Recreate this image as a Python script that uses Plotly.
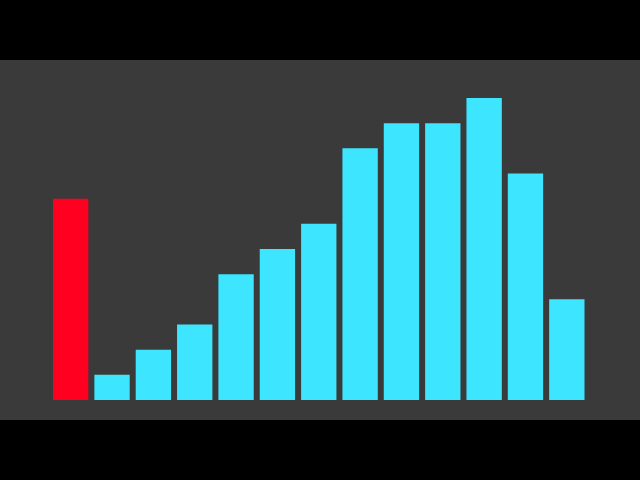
import plotly.graph_objects as go

categories = list(range(13))
values = [8, 1, 2, 3, 5, 6, 7, 10, 11, 11, 12, 9, 4]
colors = ["#ff0020"] + ["#3de5ff"] * 12

fig = go.Figure(go.Bar(x=categories, y=values, marker_color=colors,
                       marker_line_width=0, width=0.855, hoverinfo="skip"))
fig.update_layout(
    width=640, height=480,
    margin=dict(l=0, r=0, t=60, b=60),
    paper_bgcolor="#000000", plot_bgcolor="#3a3a3a",
    showlegend=False,
    xaxis=dict(range=[-1.71, 13.77], visible=False),
    yaxis=dict(range=[-0.795, 13.51], visible=False),
)
fig.write_html("out.html",
               config={"displayModeBar": False, "staticPlot": True},
               post_script="document.body.style.margin='0';document.body.style.background='#000';")
